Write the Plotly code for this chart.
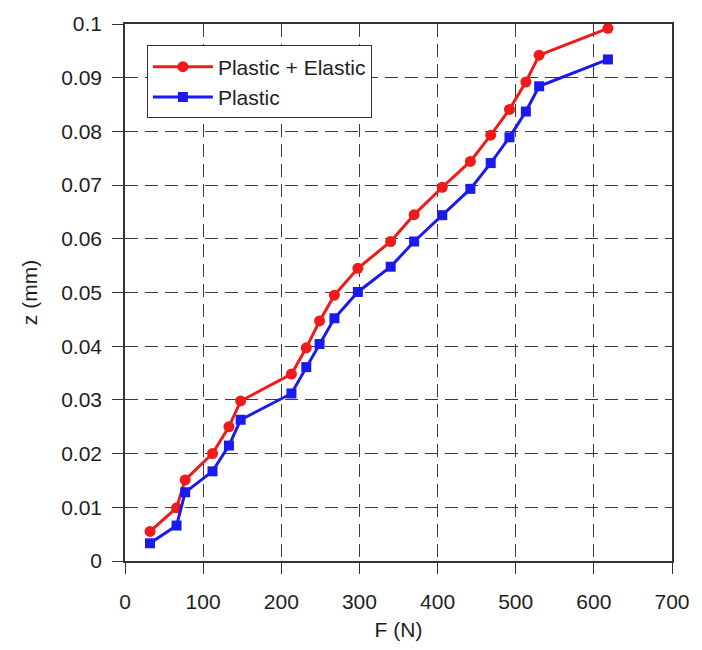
import plotly.graph_objects as go

force_n = [32, 66, 77, 112, 133, 148, 213, 232, 249, 268, 298, 340, 370, 406, 442, 468, 492, 513, 530, 618]
z_plastic_elastic = [0.0055, 0.0099, 0.0151, 0.0200, 0.0250, 0.0298, 0.0348, 0.0397, 0.0447, 0.0495,
                     0.0545, 0.0595, 0.0645, 0.0696, 0.0744, 0.0793, 0.0841, 0.0892, 0.0942, 0.0992]
z_plastic = [0.0033, 0.0066, 0.0128, 0.0167, 0.0215, 0.0263, 0.0312, 0.0361, 0.0404, 0.0452,
             0.0501, 0.0548, 0.0595, 0.0644, 0.0693, 0.0741, 0.0789, 0.0837, 0.0884, 0.0934]
x_ticks = [0, 100, 200, 300, 400, 500, 600, 700]
y_ticks = [0, 0.01, 0.02, 0.03, 0.04, 0.05, 0.06, 0.07, 0.08, 0.09, 0.1]
y_tick_labels = ["0", "0.01", "0.02", "0.03", "0.04", "0.05", "0.06", "0.07", "0.08", "0.09", "0.1"]

FONT = "Liberation Sans, Arial, sans-serif"
TXT = "#1e1e1e"

fig = go.Figure()
fig.add_trace(go.Scatter(
    x=force_n, y=z_plastic_elastic, mode="lines+markers", name="Plastic + Elastic",
    line=dict(color="#f01a1a", width=3),
    marker=dict(symbol="circle", size=11, color="#f01a1a"),
))
fig.add_trace(go.Scatter(
    x=force_n, y=z_plastic, mode="lines+markers", name="Plastic",
    line=dict(color="#1a1af0", width=3),
    marker=dict(symbol="square", size=10, color="#1a1af0"),
))

axis_common = dict(
    showline=True, linecolor="#333333", linewidth=1.6, mirror=True,
    ticks="outside", ticklen=11, tickcolor="#333333", tickwidth=1.3,
    showgrid=True, gridcolor="#3a3a3a", gridwidth=1, griddash="13px,7px",
    zeroline=False,
    tickfont=dict(family=FONT, size=21, color=TXT),
)

fig.update_xaxes(range=[0, 700], tickvals=x_ticks, ticklabelstandoff=10,
                 title=dict(text="F (N)", font=dict(family=FONT, size=21, color=TXT), standoff=10),
                 **axis_common)
fig.update_yaxes(range=[0, 0.1], tickvals=y_ticks, ticktext=y_tick_labels, ticklabelstandoff=6,
                 title=dict(text="z (mm)", font=dict(family=FONT, size=21, color=TXT), standoff=18),
                 **axis_common)

fig.update_layout(
    width=702, height=650,
    margin=dict(l=125, r=24, t=16, b=80),
    plot_bgcolor="white", paper_bgcolor="white",
    font=dict(family=FONT, size=21, color=TXT),
    legend=dict(x=0.040, y=0.960, xanchor="left", yanchor="top",
                bgcolor="white", bordercolor="#333333", borderwidth=1,
                font=dict(family=FONT, size=21, color=TXT),
                tracegroupgap=0, itemwidth=60),
    showlegend=True,
)

fig.write_html("out.html", config={"displayModeBar": False},
               post_script="document.body.style.margin='0px';document.body.style.overflow='hidden';")
